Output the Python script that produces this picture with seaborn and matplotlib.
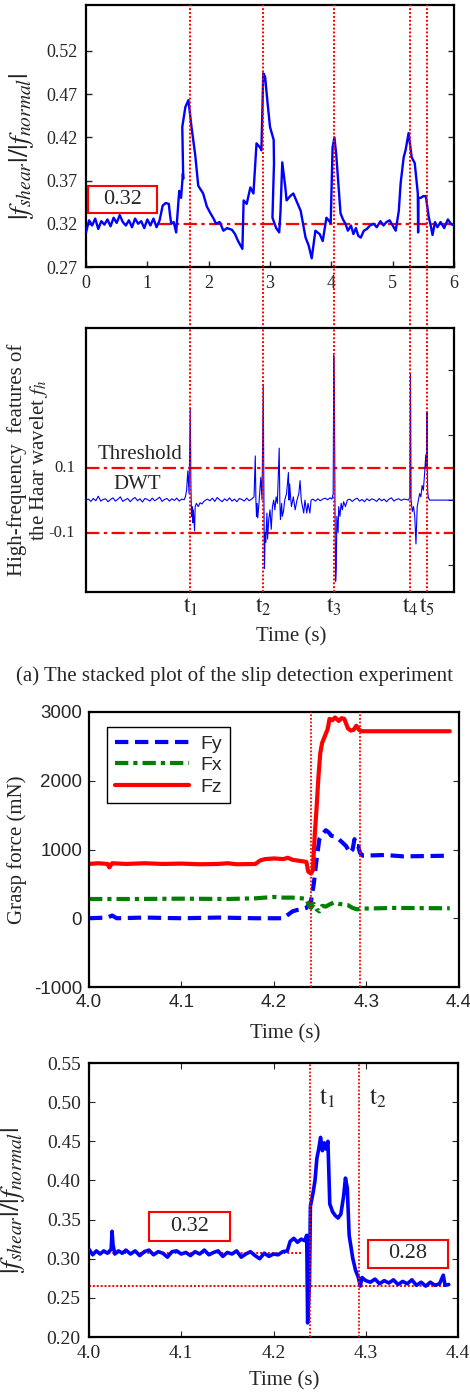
import numpy as np
import pandas as pd
import matplotlib
matplotlib.use("Agg")
import matplotlib.pyplot as plt
from matplotlib.patches import Rectangle
import seaborn as sns

sns.set_style("white")
plt.rcParams["font.family"] = ["Liberation Serif", "DejaVu Serif"]
plt.rcParams["mathtext.fontset"] = "stix"

# ---------------- data ----------------
# Panel (a-top): friction ratio over 0-6 s
ratio_t = [0.00, 0.05, 0.10, 0.15, 0.20, 0.25, 0.30, 0.35, 0.40, 0.45, 0.50, 0.55, 0.60, 0.65, 0.70,
           0.75, 0.80, 0.85, 0.90, 0.95, 1.00, 1.05, 1.10, 1.15, 1.20, 1.25, 1.30, 1.35, 1.37, 1.39,
           1.43, 1.47, 1.52, 1.55, 1.58, 1.585, 1.57, 1.62, 1.67, 1.72, 1.78, 1.83, 1.91, 1.97, 2.03,
           2.08, 2.12, 2.18, 2.24, 2.30, 2.38, 2.43, 2.48, 2.55, 2.57, 2.62, 2.68, 2.73, 2.78, 2.84,
           2.86, 2.89, 2.92, 2.96, 3.00, 3.06, 3.065, 3.04, 3.10, 3.15, 3.17, 3.20, 3.25, 3.27, 3.33,
           3.38, 3.44, 3.50, 3.58, 3.63, 3.68, 3.74, 3.81, 3.86, 3.92, 3.99, 4.02, 4.05, 4.08, 4.15,
           4.19, 4.23, 4.27, 4.32, 4.36, 4.40, 4.44, 4.48, 4.53, 4.58, 4.63, 4.69, 4.74, 4.80, 4.85,
           4.90, 4.95, 5.00, 5.05, 5.10, 5.13, 5.18, 5.21, 5.26, 5.31, 5.36, 5.41, 5.415, 5.42, 5.46,
           5.50, 5.54, 5.59, 5.62, 5.65, 5.69, 5.73, 5.78, 5.84, 5.90, 5.95, 6.00]
ratio_v = [0.310, 0.324, 0.318, 0.326, 0.314, 0.323, 0.319, 0.325, 0.317, 0.327, 0.321, 0.330, 0.322, 0.318, 0.324,
           0.316, 0.326, 0.320, 0.323, 0.315, 0.325, 0.318, 0.326, 0.316, 0.324, 0.341, 0.344, 0.343, 0.330, 0.320,
           0.322, 0.310, 0.358, 0.350, 0.378, 0.372, 0.432, 0.455, 0.463, 0.432, 0.400, 0.364, 0.355, 0.340, 0.332,
           0.326, 0.320, 0.322, 0.312, 0.315, 0.313, 0.308, 0.300, 0.291, 0.347, 0.343, 0.362, 0.355, 0.413, 0.408,
           0.405, 0.494, 0.490, 0.460, 0.432, 0.417, 0.390, 0.327, 0.315, 0.310, 0.332, 0.391, 0.362, 0.347, 0.352,
           0.355, 0.345, 0.335, 0.304, 0.295, 0.280, 0.312, 0.308, 0.300, 0.327, 0.321, 0.408, 0.420, 0.400, 0.332,
           0.325, 0.320, 0.312, 0.318, 0.308, 0.315, 0.306, 0.304, 0.312, 0.314, 0.318, 0.320, 0.316, 0.323, 0.318,
           0.322, 0.324, 0.318, 0.312, 0.335, 0.367, 0.397, 0.405, 0.425, 0.397, 0.390, 0.355, 0.310, 0.350, 0.350,
           0.352, 0.352, 0.327, 0.318, 0.307, 0.322, 0.316, 0.322, 0.315, 0.325, 0.320, 0.318]
ratio_ref = 0.32
ratio_yticks = [0.27, 0.32, 0.37, 0.42, 0.47, 0.52]
ratio_xticks = [0, 1, 2, 3, 4, 5, 6]

# Slip events (s)
event_t = [1.70, 2.89, 4.04, 5.29, 5.56]
event_labels = [r"$\mathrm{t}_1$", r"$\mathrm{t}_2$", r"$\mathrm{t}_3$", r"$\mathrm{t}_4$", r"$\mathrm{t}_5$"]

# Panel (a-bottom): DWT high-frequency feature
dwt_t = [0.00, 0.04, 0.08, 0.12, 0.16, 0.20, 0.24, 0.28, 0.32, 0.36, 0.40, 0.44, 0.48, 0.52, 0.56,
         0.60, 0.64, 0.68, 0.72, 0.76, 0.80, 0.84, 0.88, 0.92, 0.96, 1.00, 1.04, 1.08, 1.12, 1.16,
         1.20, 1.24, 1.28, 1.32, 1.36, 1.40, 1.44, 1.48, 1.52, 1.56, 1.60,
         1.62, 1.64, 1.66, 1.68, 1.70, 1.71, 1.72, 1.73, 1.74, 1.75, 1.77, 1.78, 1.80, 1.83, 1.86,
         1.89, 1.92, 1.95,
         1.98, 2.02, 2.06, 2.10, 2.14, 2.18, 2.22, 2.26, 2.30, 2.34, 2.38, 2.42, 2.46, 2.50, 2.54,
         2.58, 2.62, 2.66, 2.70,
         2.74, 2.76, 2.77, 2.78, 2.79, 2.80, 2.82, 2.85, 2.87, 2.89, 2.90, 2.91, 2.92, 2.93, 2.95,
         2.96, 2.98, 3.00, 3.02, 3.04, 3.06, 3.08, 3.10, 3.12, 3.15, 3.16, 3.17, 3.19, 3.20, 3.22,
         3.24, 3.27, 3.30, 3.31, 3.32, 3.34, 3.35, 3.38, 3.41, 3.44, 3.47, 3.49, 3.51, 3.53, 3.55,
         3.57, 3.60, 3.62, 3.65, 3.67,
         3.70, 3.74, 3.78, 3.82, 3.86, 3.90, 3.94, 3.98, 4.01,
         4.03, 4.04, 4.05, 4.06, 4.07, 4.08, 4.09, 4.11, 4.12, 4.14, 4.16, 4.18, 4.20, 4.23, 4.26,
         4.30, 4.34, 4.38, 4.42, 4.46, 4.50, 4.54, 4.58, 4.62, 4.66, 4.70, 4.74, 4.78, 4.82, 4.86,
         4.90, 4.94, 4.98, 5.02, 5.06, 5.10, 5.14, 5.18, 5.22, 5.26,
         5.28, 5.29, 5.30, 5.32, 5.34, 5.36, 5.38, 5.40, 5.42, 5.44, 5.46, 5.48, 5.50, 5.52, 5.54,
         5.55, 5.56, 5.57, 5.58, 5.60, 6.00]
dwt_v = [0.000, 0.003, -0.004, 0.005, -0.002, 0.012, -0.003, 0.002, 0.004, -0.005, 0.002, 0.007, -0.003, 0.003, 0.010,
         -0.004, 0.001, 0.005, -0.005, 0.003, 0.008, -0.002, 0.004, -0.006, 0.005, 0.002, -0.003, 0.006, -0.002, 0.003,
         0.009, -0.004, 0.002, 0.005, -0.003, 0.004, -0.001, 0.006, -0.003, 0.003, 0.001,
         0.010, 0.030, 0.090, 0.020, 0.280, 0.050, -0.050, -0.020, -0.070, -0.030, -0.095, -0.020, -0.010, -0.020, -0.008,
         -0.012, -0.004, 0.000,
         0.003, -0.002, 0.006, -0.004, 0.008, 0.001, -0.005, 0.004, -0.002, 0.007, -0.003, 0.003, -0.005, 0.005, 0.002,
         -0.003, 0.006, -0.002, 0.003,
         0.010, 0.136, 0.000, -0.050, -0.010, -0.055, -0.010, 0.070, 0.000, 0.355, 0.020, -0.210, -0.100, -0.130, -0.040,
         -0.120, -0.060, -0.030, -0.090, -0.020, 0.000, -0.030, 0.010, -0.010, 0.160, 0.000, -0.060, -0.010, -0.050, -0.035,
         0.000, 0.020, 0.085, 0.000, 0.050, 0.000, -0.020, 0.010, -0.030, 0.000, 0.020, 0.060, 0.000, -0.020, -0.040,
         0.000, -0.040, -0.010, -0.040, 0.000,
         0.003, -0.003, 0.004, -0.002, 0.003, 0.006, 0.001, 0.007, 0.003,
         0.020, 0.445, 0.300, -0.030, -0.250, -0.210, -0.050, -0.100, -0.020, -0.050, -0.010, -0.030, -0.005, -0.020, 0.000,
         0.003, -0.004, 0.002, 0.006, -0.003, 0.002, -0.005, 0.004, -0.002, 0.004, 0.001, -0.004, 0.005, -0.002, 0.003,
         -0.005, 0.003, 0.007, -0.003, 0.002, 0.004, -0.001, 0.003, 0.002, 0.000,
         0.010, 0.390, 0.000, -0.035, -0.020, -0.050, -0.135, -0.020, 0.000, 0.020, 0.010, 0.045, 0.030, 0.080, 0.140,
         0.100, 0.270, 0.030, 0.010, 0.000, 0.000]
dwt_threshold = 0.1
dwt_threshold_labels = ["0.1", "-0.1"]
dwt_right_ticks = [-0.2, 0.0, 0.2, 0.4]

# Panel (b): grasp forces 4.0-4.4 s
fz_t = [4.000, 4.010, 4.020, 4.022, 4.025, 4.040, 4.060, 4.080, 4.100, 4.120, 4.140, 4.150, 4.160, 4.180, 4.185,
        4.190, 4.200, 4.210, 4.215, 4.220, 4.225, 4.230, 4.235, 4.237, 4.240, 4.242, 4.244, 4.246, 4.248, 4.250,
        4.252, 4.255, 4.258, 4.260, 4.263, 4.266, 4.270, 4.273, 4.276, 4.280, 4.283, 4.286, 4.289, 4.292, 4.295,
        4.390]
fz_v = [790, 800, 790, 740, 800, 790, 800, 790, 795, 785, 790, 800, 785, 790, 840,
        860, 870, 860, 880, 850, 840, 830, 820, 680, 650, 700, 1200, 1600, 2050, 2400,
        2550, 2650, 2750, 2900, 2880, 2920, 2870, 2910, 2900, 2760, 2730, 2740, 2800, 2740, 2720,
        2720]
fy_t = [4.000, 4.020, 4.025, 4.030, 4.060, 4.100, 4.140, 4.180, 4.210, 4.215, 4.220, 4.225, 4.230, 4.235, 4.240,
        4.243, 4.246, 4.249, 4.252, 4.256, 4.259, 4.262, 4.266, 4.270, 4.274, 4.278, 4.282, 4.285, 4.287, 4.289,
        4.291, 4.293, 4.296, 4.320, 4.340, 4.390]
fy_v = [0, 10, 40, 0, 10, 0, 10, 0, 0, 50, 100, 120, 130, 150, 250,
        500, 850, 1150, 1220, 1280, 1250, 1200, 1190, 1150, 1100, 1050, 950, 1000, 1150, 1050,
        1050, 950, 910, 920, 900, 910]
fx_t = [4.000, 4.050, 4.100, 4.150, 4.180, 4.190, 4.200, 4.210, 4.220, 4.230, 4.235, 4.238, 4.240, 4.243, 4.246,
        4.249, 4.252, 4.256, 4.260, 4.265, 4.270, 4.275, 4.280, 4.285, 4.290, 4.295, 4.330, 4.390]
fx_v = [280, 280, 285, 280, 290, 300, 310, 300, 300, 290, 280, 180, 150, 210, 130,
        100, 180, 170, 200, 230, 210, 200, 190, 150, 130, 140, 150, 145]
force_yticks = [-1000, 0, 1000, 2000, 3000]
zoom_xticks = [4.0, 4.1, 4.2, 4.3, 4.4]
zoom_events = [4.240, 4.293]

# Panel (c): friction ratio 4.0-4.4 s
zr_t = [4.000, 4.004, 4.008, 4.012, 4.016, 4.020, 4.024, 4.025, 4.026, 4.028, 4.032, 4.036, 4.040, 4.045, 4.050,
        4.055, 4.060, 4.065, 4.070, 4.075, 4.080, 4.085, 4.090, 4.095, 4.100, 4.105, 4.110, 4.115, 4.120, 4.125,
        4.130, 4.135, 4.140, 4.145, 4.150, 4.155, 4.160, 4.165, 4.170, 4.175, 4.180, 4.185, 4.190, 4.195, 4.200,
        4.205, 4.210, 4.215, 4.218, 4.222, 4.226, 4.230, 4.234, 4.236, 4.237, 4.239, 4.240, 4.243, 4.245, 4.247,
        4.249, 4.251, 4.253, 4.255, 4.257, 4.259, 4.261, 4.264, 4.267, 4.270, 4.273, 4.276, 4.278, 4.280, 4.282,
        4.284, 4.286, 4.289, 4.292, 4.294, 4.296, 4.300, 4.305, 4.310, 4.315, 4.320, 4.325, 4.330, 4.335, 4.340,
        4.345, 4.350, 4.355, 4.360, 4.365, 4.370, 4.375, 4.380, 4.384, 4.386, 4.390]
zr_v = [0.312, 0.305, 0.310, 0.306, 0.310, 0.307, 0.312, 0.335, 0.318, 0.306, 0.310, 0.307, 0.311, 0.306, 0.310,
        0.304, 0.309, 0.311, 0.305, 0.309, 0.307, 0.302, 0.309, 0.310, 0.306, 0.308, 0.304, 0.309, 0.306, 0.311,
        0.305, 0.308, 0.310, 0.303, 0.308, 0.306, 0.310, 0.302, 0.306, 0.309, 0.304, 0.300, 0.307, 0.303, 0.306,
        0.305, 0.309, 0.310, 0.322, 0.326, 0.321, 0.325, 0.323, 0.330, 0.218, 0.270, 0.367, 0.385, 0.400, 0.428,
        0.440, 0.455, 0.438, 0.448, 0.440, 0.450, 0.370, 0.360, 0.355, 0.352, 0.357, 0.380, 0.403, 0.390, 0.330,
        0.315, 0.300, 0.285, 0.276, 0.265, 0.276, 0.272, 0.270, 0.274, 0.268, 0.272, 0.269, 0.273, 0.267, 0.271,
        0.268, 0.273, 0.266, 0.270, 0.265, 0.270, 0.266, 0.268, 0.279, 0.266, 0.267]
zr_before = 0.307
zr_after = 0.265
zr_yticks = [0.20, 0.25, 0.30, 0.35, 0.40, 0.45, 0.50, 0.55]

# ---------------- styling helpers ----------------
RED = "#ff0000"
BLUE = "#0000ff"
GREEN = "#008000"
DOT = (0, (1, 1))
DASHDOT = (0, (6, 2, 1.5, 2))
SERIF = ["Liberation Serif", "DejaVu Serif"]
SANS = ["Liberation Sans", "DejaVu Sans"]
W, H = 470, 1393


def box(ax, x0, y0, w, h, text, fs):
    ax.add_patch(Rectangle((x0, y0), w, h, transform=ax.transAxes, fill=False,
                           edgecolor=RED, linewidth=1.5, clip_on=False, zorder=5))
    ax.text(x0 + w / 2, y0 + h / 2, text, transform=ax.transAxes, ha="center", va="center",
            fontsize=fs, family=SERIF, zorder=6)


def frame(ax, lw=1.6):
    for s in ax.spines.values():
        s.set_visible(True)
        s.set_linewidth(lw)
        s.set_color("black")


fig = plt.figure(figsize=(W / 100, H / 100), dpi=100)
ax1 = fig.add_axes([86 / W, 1 - 267 / H, 368 / W, 262 / H])
ax2 = fig.add_axes([86 / W, 1 - 592 / H, 368 / W, 264 / H])
ax3 = fig.add_axes([89 / W, 1 - 987 / H, 370 / W, 275 / H])
ax4 = fig.add_axes([89 / W, 1 - 1337 / H, 369 / W, 274 / H])

RATIO_LABEL = r"$|f_{shear}|/|f_{normal}|$"

# ---------- panel 1 ----------
df1 = pd.DataFrame({"t": ratio_t, "r": ratio_v})
ax1.axhline(ratio_ref, xmin=1.18 / 6, xmax=1, color=RED, lw=1.6, ls=DASHDOT, zorder=1)
sns.lineplot(data=df1, x="t", y="r", ax=ax1, color=BLUE, lw=1.7, sort=False, estimator=None, zorder=3)
for t in event_t:
    ax1.axvline(t, ymin=-0.235, ymax=1, color=RED, lw=1.4, ls=DOT, clip_on=False, zorder=4)
ax1.set_xlim(0, 6)
ax1.set_ylim(0.27, 0.573)
ax1.set_xticks(ratio_xticks)
ax1.set_yticks(ratio_yticks)
ax1.set_yticklabels([f"{v:.2f}" for v in ratio_yticks])
ax1.tick_params(direction="in", length=4, width=1, right=True, left=True, bottom=True, top=False,
                labelsize=13, pad=6)
ax1.set_xlabel("")
ax1.set_ylabel(RATIO_LABEL, fontsize=20, color="#222222")
ax1.yaxis.set_label_coords(-0.135, 0.46)
frame(ax1)
box(ax1, 0.005, 0.206, 0.1875, 0.103, "0.32", 16)

# ---------- panel 2 ----------
df2 = pd.DataFrame({"t": dwt_t, "v": dwt_v})
for lvl in (dwt_threshold, -dwt_threshold):
    ax2.axhline(lvl, color=RED, lw=1.6, ls=DASHDOT, zorder=2)
sns.lineplot(data=df2, x="t", y="v", ax=ax2, color=BLUE, lw=0.8, sort=False, estimator=None, zorder=3)
for t in event_t:
    ax2.axvline(t, color=RED, lw=1.4, ls=DOT, zorder=4)
ax2.set_xlim(0, 6)
ax2.set_ylim(-0.283, 0.53)
ax2.set_xticks(event_t)
ax2.set_xticklabels(event_labels, fontsize=17)
ax2.tick_params(axis="x", length=0, pad=3)
ax2.set_yticks(dwt_right_ticks)
ax2.tick_params(axis="y", direction="in", length=4, left=False, right=True, labelleft=False, labelright=False)
for lvl, lab in zip((dwt_threshold, -dwt_threshold), dwt_threshold_labels):
    ax2.text(-0.03, lvl, lab, transform=ax2.get_yaxis_transform(), ha="right", va="center",
             fontsize=12, family=SERIF)
ax2.text(0.88, 0.14, "Threshold", ha="center", va="center", fontsize=15, family=SERIF)
ax2.text(0.83, 0.048, "DWT", ha="center", va="center", fontsize=15, family=SERIF)
ax2.set_xlabel("Time (s)", fontsize=15)
ax2.xaxis.set_label_coords(0.557, -0.133)
ax2.set_ylabel("High-frequency  features of\nthe Haar wavelet $f_h$", fontsize=15, linespacing=1.05)
ax2.yaxis.set_label_coords(-0.098, 0.5)
frame(ax2)

fig.text(0.5, 1 - 676 / H, "(a) The stacked plot of the slip detection experiment",
         ha="center", va="center", fontsize=15, family=SERIF)

# ---------- panel 3 ----------
sns.lineplot(x=fy_t, y=fy_v, ax=ax3, color=BLUE, lw=3, ls=(0, (3.2, 1.6)), label="Fy",
             sort=False, estimator=None)
sns.lineplot(x=fx_t, y=fx_v, ax=ax3, color=GREEN, lw=3, ls=(0, (3.2, 1.2, 1, 1.2)), label="Fx",
             sort=False, estimator=None)
sns.lineplot(x=fz_t, y=fz_v, ax=ax3, color=RED, lw=3, label="Fz", sort=False, estimator=None)
for t in zoom_events:
    ax3.axvline(t, color=RED, lw=1.3, ls=DOT, zorder=4)
ax3.set_xlim(4.0, 4.4)
ax3.set_ylim(-1000, 3000)
ax3.set_xticks(zoom_xticks)
ax3.set_xticklabels([f"{v:.1f}" for v in zoom_xticks])
ax3.set_yticks(force_yticks)
ax3.set_yticklabels([str(v) for v in force_yticks])
for lab in ax3.get_xticklabels() + ax3.get_yticklabels():
    lab.set_family(SANS)
ax3.tick_params(direction="in", length=4, right=True, left=True, bottom=True, top=False,
                labelsize=13.5, pad=5)
ax3.set_ylabel("Grasp force (mN)", fontsize=15)
ax3.yaxis.set_label_coords(-0.168, 0.5)
ax3.set_xlabel("Time (s)", fontsize=15)
ax3.xaxis.set_label_coords(0.53, -0.135)
leg = ax3.legend(loc="upper left", bbox_to_anchor=(0.049, 0.945), borderaxespad=0, fancybox=False,
                 edgecolor="black", framealpha=1, handlelength=3.8, labelspacing=0.2,
                 prop={"family": SANS, "size": 14}, borderpad=0.4, handletextpad=0.6)
leg.get_frame().set_linewidth(1.0)
frame(ax3)

# ---------- panel 4 ----------
ax4.axhline(zr_before, xmin=0, xmax=0.23 / 0.4, color=RED, lw=1.4, ls=DOT, zorder=2)
ax4.axhline(zr_after, xmin=0, xmax=0.388 / 0.4, color=RED, lw=1.4, ls=DOT, zorder=2)
sns.lineplot(x=zr_t, y=zr_v, ax=ax4, color=BLUE, lw=2.6, sort=False, estimator=None, zorder=3)
for t in zoom_events:
    ax4.axvline(t, color=RED, lw=1.3, ls=DOT, zorder=4)
ax4.set_xlim(4.0, 4.4)
ax4.set_ylim(0.2, 0.55)
ax4.set_xticks(zoom_xticks)
ax4.set_xticklabels([f"{v:.1f}" for v in zoom_xticks])
ax4.set_yticks(zr_yticks)
ax4.set_yticklabels([f"{v:.2f}" for v in zr_yticks])
ax4.tick_params(direction="in", length=4, right=True, left=True, bottom=True, top=True,
                labelsize=14, pad=6)
ax4.text(4.258, 0.505, r"$\mathrm{t}_1$", ha="center", va="center", fontsize=18)
ax4.text(4.313, 0.505, r"$\mathrm{t}_2$", ha="center", va="center", fontsize=18)
ax4.set_ylabel(RATIO_LABEL, fontsize=20, color="#222222")
ax4.yaxis.set_label_coords(-0.168, 0.5)
ax4.set_xlabel("Time (s)", fontsize=15)
ax4.xaxis.set_label_coords(0.53, -0.125)
box(ax4, 0.163, 0.350, 0.2195, 0.106, "0.32", 16)
box(ax4, 0.756, 0.252, 0.217, 0.102, "0.28", 16)
frame(ax4)

fig.savefig("out.png", dpi=100)
